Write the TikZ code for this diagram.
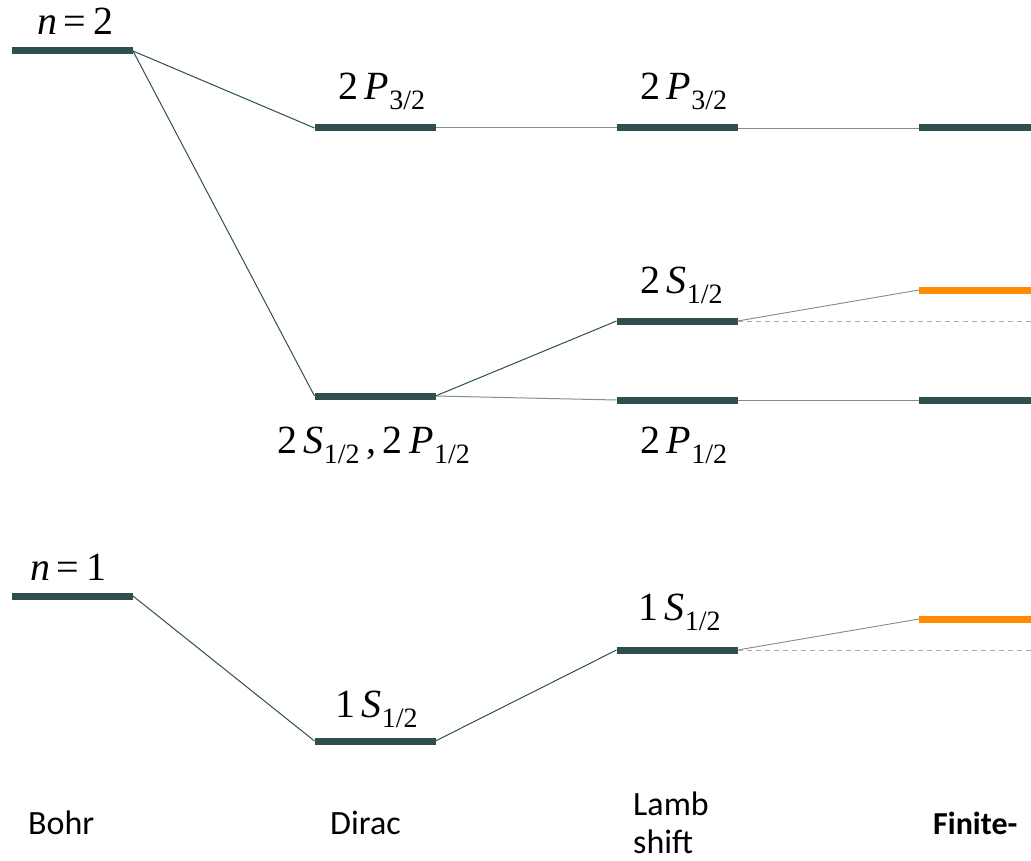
\documentclass[tikz,border=0pt]{standalone}
\usepackage{fontspec}
\setmainfont{Liberation Serif}
\newfontfamily\labfont{Carlito}
\definecolor{lvl}{HTML}{2F4F4F}
\definecolor{fin}{HTML}{FF8C00}
\definecolor{conA}{HTML}{2F4F4F}
\definecolor{conB}{HTML}{7F9090}
\definecolor{conC}{HTML}{888888}
\definecolor{dsh}{HTML}{AAAAAA}
\newcommand{\sbs}[1]{\raisebox{-10pt}{\fontsize{28}{28}\selectfont #1}}
\begin{document}
\begin{tikzpicture}[x=1pt,y=-1pt,
  level/.style={fill=lvl,minimum width=121pt,minimum height=7pt,inner sep=0pt,outer sep=0pt,draw=none},
  flevel/.style={level,fill=fin},
  lab/.style={anchor=base west,inner sep=0pt,font=\fontsize{40}{40}\selectfont},
  captxt/.style={anchor=base west,inner sep=0pt,font=\labfont\fontsize{34}{38}\selectfont,align=left},
  cona/.style={draw=conA,line width=1pt},
  conb/.style={draw=conB,line width=1pt},
  conc/.style={draw=conC,line width=0.9pt},
  cond/.style={draw=dsh,line width=0.9pt,dash pattern=on 5pt off 4pt}]
\useasboundingbox (0,0) rectangle (1031,861);
\clip (0,0) rectangle (1031,861);
% levels
\node[level] (b2) at (72.5,51) {};
\node[level] (b1) at (72.5,596) {};
\node[level] (d2p) at (375,128) {};
\node[level] (d2s) at (375,396) {};
\node[level] (d1s) at (375,741) {};
\node[level] (l2p) at (677,128) {};
\node[level] (l2s) at (677,321) {};
\node[level] (l2pp) at (677,400) {};
\node[level] (l1s) at (677,650) {};
\node[level] (f2p) at (979.5,128) {};
\node[flevel] (f2s) at (979.5,290) {};
\node[level] (f2pp) at (979.5,400) {};
\node[flevel] (f1s) at (979.5,619) {};
\coordinate (e2s) at (1040,321);
\coordinate (e1s) at (1040,650);
% connectors
\draw[cona] (b2.east) -- (d2p.west);
\draw[cona] (b2.east) -- (d2s.west);
\draw[cona] (b1.east) -- (d1s.west);
\draw[conb] (d2p.east) -- (l2p.west);
\draw[cona] (d2s.east) -- (l2s.west);
\draw[conb] (d2s.east) -- (l2pp.west);
\draw[cona] (d1s.east) -- (l1s.west);
\draw[conc] (l2p.east) -- (f2p.west);
\draw[conc] (l2s.east) -- (f2s.west);
\draw[conc] (l2pp.east) -- (f2pp.west);
\draw[conc] (l1s.east) -- (f1s.west);
\draw[cond] (l2s.east) -- (e2s);
\draw[cond] (l1s.east) -- (e1s);
% labels
\node[lab] (tn2) at (37,35) {\textit{n}\,=\,2};
\node[lab] (tn1) at (30,580) {\textit{n}\,=\,1};
\node[lab] (td2p) at (338,100) {2\,\textit{P}\sbs{3/2}};
\node[lab] (tl2p) at (640,100) {2\,\textit{P}\sbs{3/2}};
\node[lab] (tl2s) at (640,293) {2\,\textit{S}\sbs{1/2}};
\node[lab] (td2s) at (277,453) {2\,\textit{S}\sbs{1/2}\,,\,2\,\textit{P}\sbs{1/2}};
\node[lab] (tl2pp) at (640,453) {2\,\textit{P}\sbs{1/2}};
\node[lab] (tl1s) at (638,620) {1\,\textit{S}\sbs{1/2}};
\node[lab] (td1s) at (335,717) {1\,\textit{S}\sbs{1/2}};
% captions
\node[captxt] (cbohr) at (28,834) {Bohr};
\node[captxt] (cdirac) at (330,834) {Dirac};
\node[captxt] (clamb) at (633,853) {Lamb\\shift};
\node[captxt] (cfin) at (933,834) {\bfseries\fontsize{32}{36}\selectfont Finite-};
\end{tikzpicture}
\end{document}
